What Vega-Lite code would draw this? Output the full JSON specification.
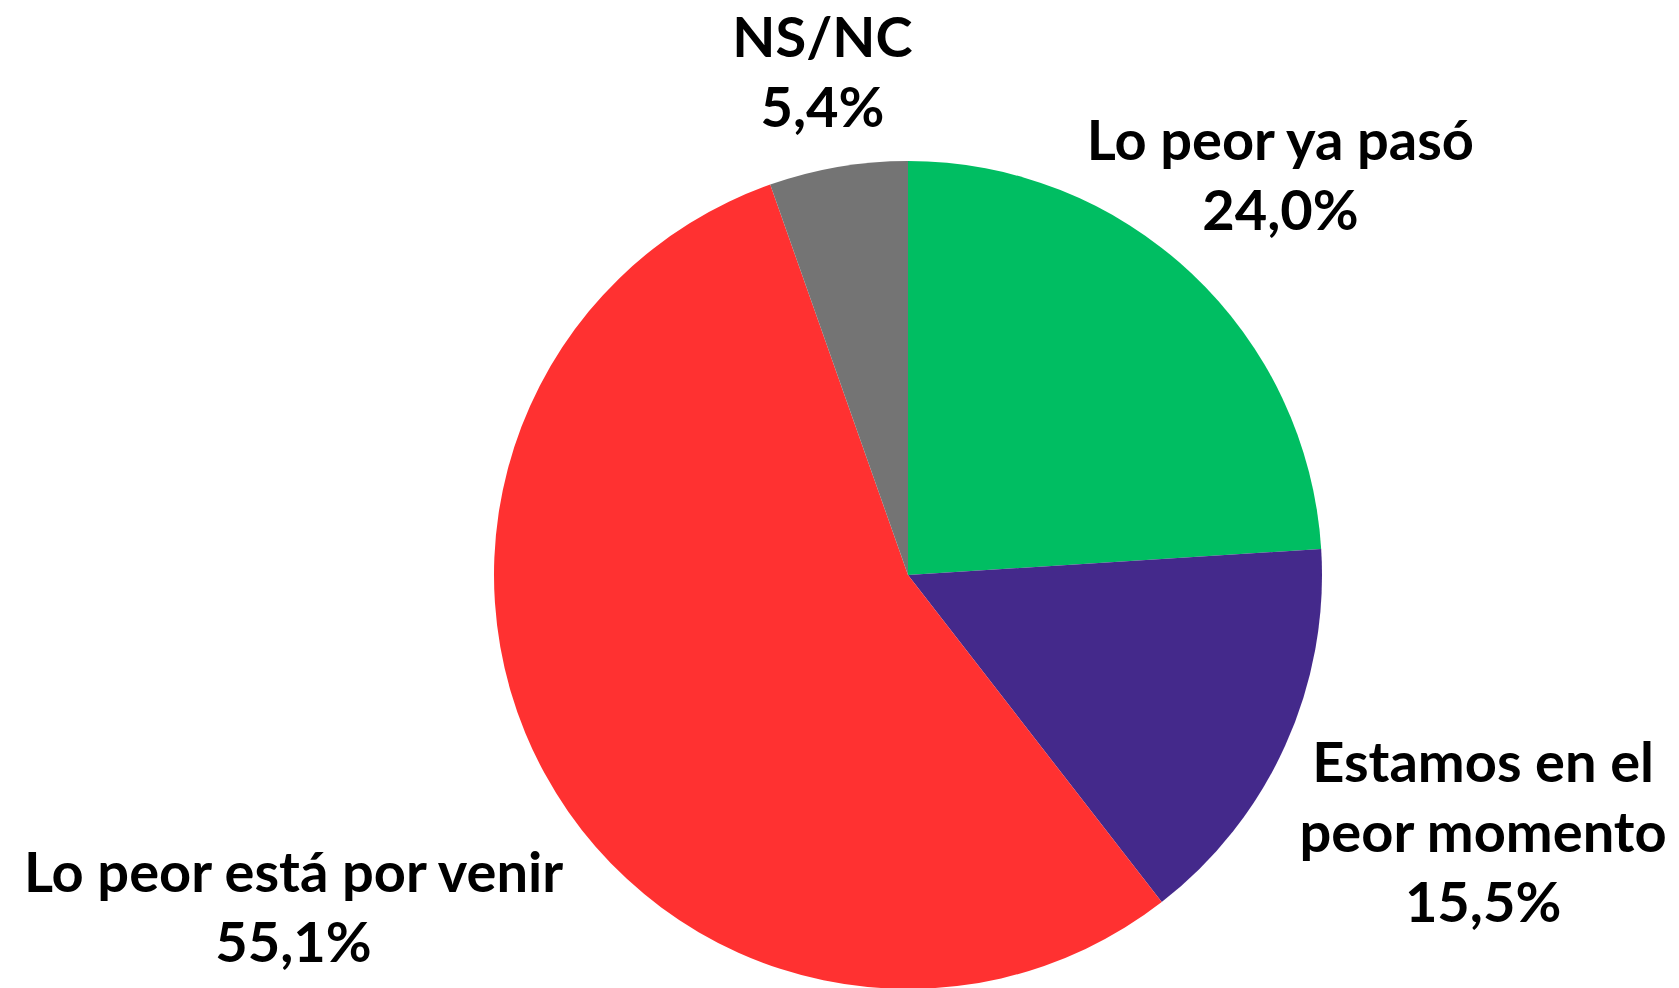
{
  "$schema": "https://vega.github.io/schema/vega-lite/v6.json",
  "width": 828,
  "height": 828,
  "autosize": {"type": "none"},
  "padding": {"left": 494, "top": 161, "right": 357, "bottom": 0},
  "background": "white",
  "config": {"view": {"stroke": null}},
  "data": {
    "values": [
      {"categoria": "Lo peor ya pasó", "etiqueta": "Lo peor ya pasó", "valor": 24.0, "orden": 1},
      {"categoria": "Estamos en el peor momento", "etiqueta": "Estamos en el\npeor momento", "valor": 15.5, "orden": 2},
      {"categoria": "Lo peor está por venir", "etiqueta": "Lo peor está por venir", "valor": 55.1, "orden": 3},
      {"categoria": "NS/NC", "etiqueta": "NS/NC", "valor": 5.4, "orden": 4}
    ]
  },
  "transform": [
    {"stack": "valor", "groupby": [], "sort": [{"field": "orden", "order": "ascending"}], "as": ["inicio", "fin"]},
    {"calculate": "(datum.inicio + datum.fin) / 2", "as": "medio"},
    {"calculate": "datum.etiqueta + '\\n' + replace(format(datum.valor, '.1f'), '.', ',') + '%'", "as": "texto"}
  ],
  "layer": [
    {
      "mark": {"type": "arc", "outerRadius": 414},
      "encoding": {
        "theta": {"field": "inicio", "type": "quantitative", "scale": {"domain": [0, 100]}},
        "theta2": {"field": "fin"},
        "color": {
          "field": "categoria",
          "type": "nominal",
          "scale": {
            "domain": ["Lo peor ya pasó", "Estamos en el peor momento", "Lo peor está por venir", "NS/NC"],
            "range": ["#00BE62", "#44298B", "#FF3131", "#747474"]
          },
          "legend": null
        }
      }
    },
    {
      "transform": [{"filter": "datum.orden == 1"}],
      "mark": {"type": "text", "radius": 544, "dy": -35, "font": "Lato", "fontWeight": "bold", "fontSize": 56, "lineHeight": 70, "lineBreak": "\n", "align": "center", "baseline": "middle", "color": "black"},
      "encoding": {
        "theta": {"field": "medio", "type": "quantitative", "stack": false},
        "text": {"field": "texto"}
      }
    },
    {
      "transform": [{"filter": "datum.orden == 2"}],
      "mark": {"type": "text", "radius": 631, "dy": -70, "font": "Lato", "fontWeight": "bold", "fontSize": 56, "lineHeight": 70, "lineBreak": "\n", "align": "center", "baseline": "middle", "color": "black"},
      "encoding": {
        "theta": {"field": "medio", "type": "quantitative", "stack": false},
        "text": {"field": "texto"}
      }
    },
    {
      "transform": [{"filter": "datum.orden == 3"}],
      "mark": {"type": "text", "radius": 700, "dy": -35, "font": "Lato", "fontWeight": "bold", "fontSize": 56, "lineHeight": 70, "lineBreak": "\n", "align": "center", "baseline": "middle", "color": "black"},
      "encoding": {
        "theta": {"field": "medio", "type": "quantitative", "stack": false},
        "text": {"field": "texto"}
      }
    },
    {
      "transform": [{"filter": "datum.orden == 4"}],
      "mark": {"type": "text", "radius": 507, "dy": -35, "font": "Lato", "fontWeight": "bold", "fontSize": 56, "lineHeight": 70, "lineBreak": "\n", "align": "center", "baseline": "middle", "color": "black"},
      "encoding": {
        "theta": {"field": "medio", "type": "quantitative", "stack": false},
        "text": {"field": "texto"}
      }
    }
  ]
}
